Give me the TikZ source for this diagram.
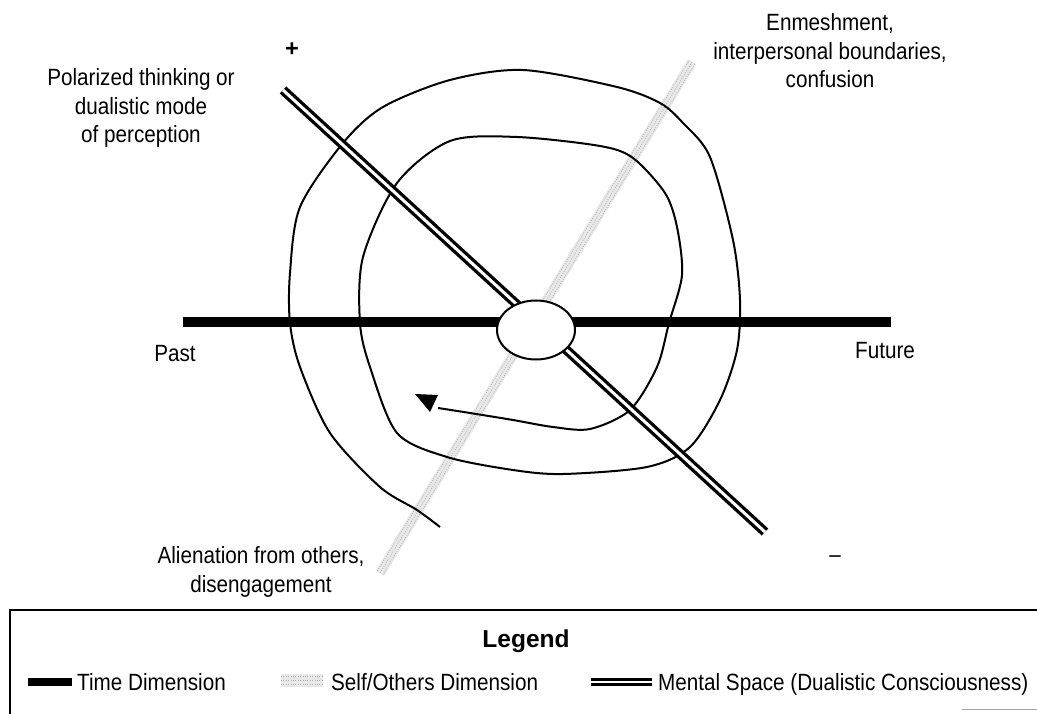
\documentclass[tikz,border=0pt]{standalone}
\usepackage{fontspec}
\setmainfont{Liberation Sans}
\newfontfamily\narrowsans[FakeStretch=0.88]{Liberation Sans}
\usetikzlibrary{calc,shapes.geometric}
\begin{document}
\begin{tikzpicture}[x=1pt,y=-1pt,
  txt/.style={font=\narrowsans\fontsize{23.5}{28.5}\selectfont, inner sep=0pt, align=center, anchor=base},
  timeline/.style={draw=black, line width=9.5pt},
  mental/.style={draw=black, double=white, double distance=3pt, line width=3.3pt},
  selfband/.style={draw=gray!18, line width=10pt},
  selfdots/.style={draw=gray!60, line width=0.7pt, dash pattern=on 1pt off 1.4pt},
  spiral/.style={draw=black, line width=2pt},
  legendframe/.style={draw=black, line width=2pt}]
\useasboundingbox (0,0) rectangle (1037,714);

% end points of the three dimensions
\coordinate (pastEnd) at (183,322);
\coordinate (futureEnd) at (891,322);
\coordinate (plusEnd) at (283,90);
\coordinate (minusEnd) at (765,532);
\coordinate (soTop) at (692,62);
\coordinate (soBot) at (380,573);

% self / others dimension: stippled grey band
\draw[selfband] (soTop) -- (soBot);
\draw[selfdots] ($(soTop)!3.3pt!90:(soBot)$) -- ($(soBot)!3.3pt!-90:(soTop)$);
\draw[selfdots] (soTop) -- (soBot);
\draw[selfdots] ($(soTop)!3.3pt!-90:(soBot)$) -- ($(soBot)!3.3pt!90:(soTop)$);

% spiral of mental space, from the arrow outwards
\coordinate (spiralStart) at (438,408);
\draw[spiral] plot[smooth, tension=0.5] coordinates {
  (438,408) (470,413) (513,420) (553,427) (590,429) (630,410) (657,367)
  (669,323) (682,275) (677,227) (665,193) (633,158) (600,146) (517,137)
  (450,141) (397,183) (363,257) (360,323) (370,367) (397,433) (447,457)
  (513,470) (563,474) (647,467) (690,447) (720,400) (737,350) (740,300)
  (733,240) (710,157) (683,123) (660,103) (617,87) (523,70) (450,80)
  (383,107) (343,143) (300,207) (290,273) (290,323) (300,367) (330,433)
  (380,487) (417,510) (440,527)};
\fill (415,394) -- (438,395) -- (430,412) -- cycle;

% mental space (dualistic consciousness) and time dimension
\draw[mental] (plusEnd) -- (minusEnd);
\draw[timeline] (pastEnd) -- (futureEnd);

% centre
\node[draw=black, fill=white, line width=2pt, ellipse, minimum width=78pt, minimum height=59pt, inner sep=0pt] (centre) at (536,330) {};

% labels (multi-line nodes sit on the baseline of their last line)
\node[txt, font=\fontsize{23.5}{28.5}\selectfont\bfseries] (plus) at (292,57) {+};
\node[txt] (minus) at (835,562) {–};
\node[txt] (past) at (175,361) {Past};
\node[txt] (future) at (885,358) {Future};
\node[txt] (polar) at (141,143) {Polarized thinking or\\dualistic mode\\of perception};
\node[txt] (enmesh) at (830,88) {Enmeshment,\\interpersonal boundaries,\\confusion};
\node[txt] (alien) at (261,592) {Alienation from others,\\disengagement};

% legend
\coordinate (lgTL) at (10,610);
\coordinate (lgTR) at (1037,610);
\coordinate (lgBL) at (10,714);
\draw[legendframe] (lgBL) -- (lgTL) -- (lgTR);
\coordinate (lgFa) at (962,709);
\coordinate (lgFb) at (1037,709);
\draw[gray!70, line width=1pt] (lgFa) -- (lgFb);
\node[txt, font=\fontsize{24.5}{28}\selectfont\bfseries] (legendTitle) at (526,647) {Legend};

\coordinate (swTimeA) at (28,682);
\coordinate (swTimeB) at (72,682);
\draw[timeline, line width=8pt] (swTimeA) -- (swTimeB);
\node[txt, anchor=base west] (lgTime) at (77,690) {Time Dimension};

\coordinate (swSelfA) at (281,680);
\coordinate (swSelfB) at (323,680);
\draw[draw=gray!18, line width=13pt] (swSelfA) -- (swSelfB);
\foreach \dy in {-4,0,4} {
  \draw[selfdots] ($(swSelfA)+(0,\dy)$) -- ($(swSelfB)+(0,\dy)$);
}
\node[txt, anchor=base west] (lgSelf) at (331,690) {Self/Others Dimension};

\coordinate (swMentA) at (591,682);
\coordinate (swMentB) at (652,682);
\draw[mental, line width=2.8pt, double distance=2pt] (swMentA) -- (swMentB);
\node[txt, anchor=base west] (lgMent) at (658,690) {Mental Space (Dualistic Consciousness)};
\end{tikzpicture}
\end{document}
